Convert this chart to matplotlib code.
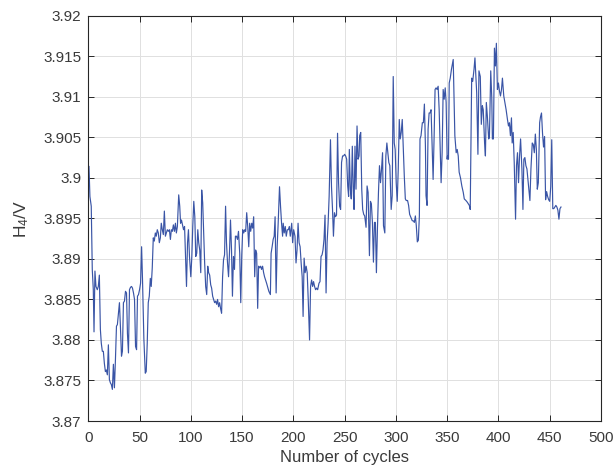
import matplotlib
matplotlib.use('Agg')
import matplotlib.pyplot as plt
from matplotlib.ticker import FuncFormatter, MultipleLocator

# valores (ciclo, H4 em V)
ciclos = [
    0.7, 1.6, 2.9, 3.9, 4.9, 5.6, 6.5, 7.5, 8.8, 9.8, 10.8, 11.8, 12.7, 13.7, 14.7, 15.7, 16.7, 17.6, 18.6, 19.6,
    20.6, 21.6, 22.5, 23.5, 24.5, 25.5, 26.5, 27.5, 28.4, 29.4, 30.4, 31.4, 32.4, 33.3, 34.3, 35.3, 36.3, 37.3, 38.2, 39.2,
    40.2, 41.2, 42.2, 43.1, 44.1, 45.1, 46.1, 47.1, 48, 49, 50, 51, 52, 52.9, 54.2, 55.6, 56.5, 57.5, 58.5, 59.5,
    60.5, 61.4, 62.4, 63.4, 64.4, 65.4, 66.3, 67.3, 68.3, 69.3, 70.3, 71.2, 72.2, 73.2, 74.2, 75.2, 76.1, 77.1, 78.1, 79.1,
    80.1, 81, 82, 83, 84, 85, 85.9, 86.9, 88.2, 89.2,
    90, 90.9, 91.9, 92.9, 93.9, 94.8, 95.8, 96.8, 97.7, 98.7, 100, 101, 101.9, 102.9, 103.9, 104.8, 105.8, 106.8, 107.7, 108.7,
    109.7, 110.6, 111.6, 112.6, 113.5, 114.5, 115.5, 116.5, 117.4, 118.4, 119.4, 120.3, 121.3, 122.3, 123.2, 124.2, 125.2, 126.1, 127.1, 128.1,
    129, 130, 131, 131.9, 132.9, 133.9, 134.8, 135.8, 136.8, 137.7, 138.7, 139.7, 140.6, 141.6, 142.6, 143.5, 144.5, 145.5, 146.5, 147.7,
    148.7, 149.7, 150.6, 151.6, 152.6, 153.5, 154.5, 155.5, 156.5, 157.4, 158.4, 159.4, 160.3, 161.3, 162.3, 163.2, 164.2, 165.2, 166.1, 167.1,
    168.1, 169, 170, 171, 171.9, 172.9, 173.9, 175.2, 176.1,
    177.6, 178.3, 179.3, 180.3, 181.3, 182.2, 183.2, 184.2, 185.2, 186.5, 187.5, 188.5, 189.5, 190.1, 191.1, 192.1, 193.1, 194.1, 195.1, 196.1,
    197, 198.4, 199.3, 200.3, 201.6, 202.6, 203.6, 204.6, 205.6, 206.6, 207.6, 208.6, 209.5, 210.5, 211.5, 212.5, 213.5, 214.5, 215.8, 216.8,
    217.8, 218.8, 219.7, 220.7, 221.7, 222.7, 223.7, 225, 226, 227, 228, 228.9, 229.9, 230.9, 231.9, 232.9, 233.9, 234.9, 236.2, 237.2,
    238.2, 239.1, 240.1, 241.1, 242.1, 243.1, 244.1, 245.1, 246.1, 247, 248, 249, 250, 251, 252, 253, 253.9,
    254.6, 255.6, 256.5, 257.5, 258.5, 259.2, 260.1, 261.1, 262.1, 263.1, 264.1, 264.7, 265.7, 266.7, 267.6, 268.6, 269.6, 270.9, 271.9, 272.9,
    274.2, 275.2, 276.1, 277.1, 278.1, 279.1, 280, 281, 282, 283, 284, 285, 286, 287, 287.9, 289.2, 290.2, 291.2, 292.2, 293.1,
    294.1, 295.4, 296.4, 297.4, 298.4, 299.3, 300.3, 301.3, 302.3, 303.3, 304.2, 305.2, 306.2, 307.2, 308.2, 309.2, 310.1, 311.4, 312.4, 313.4,
    314.7, 316, 317, 318, 319, 319.9, 320.9, 321.9, 322.9, 323.5, 324.5, 325.8, 326.8, 327.8, 328.8, 329.4, 330.4, 331.4, 332.4, 333.3,
    334.3, 335.3, 336.3, 337.3, 338.2, 339.2, 340.2, 341.2, 342.2, 343.1, 344.1, 345.1, 346.1, 347.1, 348.1, 349, 350,
    350.3, 351.3, 352, 353, 354.2, 355.9, 356.9, 357.5, 358.8, 359.8, 360.8, 361.7, 363, 364.3, 365.7, 366.7, 368.3, 369.6, 370.6, 371.6,
    372.5, 373.9, 374.9, 376.2, 377.1, 378.8, 380, 381, 382.3, 383.3, 384.3, 385.2, 386.5, 387.3, 388.2, 389.2, 390.5, 391.2, 392.5, 393.5,
    394.1, 395.1, 396.1, 397.1, 398, 399, 400, 401, 402, 403, 403.9, 405.2, 406.5, 407.5, 408.8, 409.8, 410.7, 411.7, 412.7, 413.4,
    414.4, 415.4, 416.7, 417.6, 418.6, 419.6, 420.6, 421.6, 422.9, 423.9, 424.8, 425.8, 426.8, 427.8, 428.8, 429.7, 430.7, 431.7, 433, 434,
    435, 436, 437, 437.9, 438.9, 440.2,
    441, 442, 443, 444, 445, 446, 447, 448, 449, 450, 451, 452, 453, 454, 455, 456, 457, 458, 459, 460, 461,
]

h4_v = [
    3.9014, 3.8977, 3.8965, 3.8887, 3.8862, 3.8810, 3.8885, 3.8866, 3.8862, 3.8866, 3.8880, 3.8813, 3.8796, 3.8786, 3.8786, 3.8771, 3.8761, 3.8763, 3.8757, 3.8794,
    3.8751, 3.8747, 3.8745, 3.8739, 3.8770, 3.8741, 3.8776, 3.8817, 3.8819, 3.8833, 3.8846, 3.8815, 3.8780, 3.8786, 3.8846, 3.8848, 3.8860, 3.8858, 3.8808, 3.8784,
    3.8862, 3.8865, 3.8866, 3.8864, 3.8858, 3.8850, 3.8792, 3.8788, 3.8854, 3.8856, 3.8862, 3.8870, 3.8915, 3.8874, 3.8802, 3.8759, 3.8761, 3.8796, 3.8846, 3.8854,
    3.8876, 3.8866, 3.8889, 3.8926, 3.8922, 3.8932, 3.8928, 3.8936, 3.8932, 3.8920, 3.8926, 3.8944, 3.8936, 3.8930, 3.8959, 3.8928, 3.8932, 3.8936, 3.8934, 3.8936,
    3.8924, 3.8936, 3.8934, 3.8942, 3.8934, 3.8944, 3.8932, 3.8940, 3.8979, 3.8965,
    3.8944, 3.8948, 3.8942, 3.8936, 3.8940, 3.8903, 3.8866, 3.8920, 3.8936, 3.8903, 3.8878, 3.8903, 3.8940, 3.8971, 3.8952, 3.8903, 3.8907, 3.8936, 3.8920, 3.8911,
    3.8883, 3.8985, 3.8969, 3.8928, 3.8895, 3.8866, 3.8856, 3.8891, 3.8883, 3.8880, 3.8868, 3.8864, 3.8854, 3.8850, 3.8846, 3.8848, 3.8844, 3.8850, 3.8841, 3.8846,
    3.8839, 3.8833, 3.8878, 3.8899, 3.8905, 3.8965, 3.8920, 3.8895, 3.8878, 3.8907, 3.8948, 3.8911, 3.8854, 3.8903, 3.8887, 3.8928, 3.8928, 3.8924, 3.8934, 3.8907,
    3.8846, 3.8905, 3.8936, 3.8932, 3.8936, 3.8934, 3.8957, 3.8940, 3.8915, 3.8944, 3.8934, 3.8944, 3.8938, 3.8952, 3.8878, 3.8911, 3.8907, 3.8839, 3.8891, 3.8889,
    3.8891, 3.8887, 3.8891, 3.8883, 3.8878, 3.8874, 3.8870, 3.8864, 3.8860,
    3.8856, 3.8907, 3.8915, 3.8924, 3.8928, 3.8952, 3.8858, 3.8915, 3.8944, 3.8989, 3.8965, 3.8944, 3.8928, 3.8944, 3.8932, 3.8940, 3.8928, 3.8936, 3.8936, 3.8940,
    3.8928, 3.8944, 3.8920, 3.8936, 3.8928, 3.8895, 3.8911, 3.8944, 3.8920, 3.8915, 3.8895, 3.8878, 3.8829, 3.8901, 3.8883, 3.8891, 3.8883, 3.8850, 3.8800, 3.8866,
    3.8874, 3.8866, 3.8872, 3.8866, 3.8862, 3.8864, 3.8862, 3.8870, 3.8872, 3.8903, 3.8905, 3.8911, 3.8924, 3.8954, 3.8858, 3.8920, 3.8944, 3.8977, 3.9047, 3.8989,
    3.8961, 3.8928, 3.8957, 3.8952, 3.8954, 3.9055, 3.8994, 3.8965, 3.8961, 3.9019, 3.9027, 3.9027, 3.9029, 3.9027, 3.9023, 3.8990, 3.8977,
    3.9035, 3.8986, 3.8974, 3.9039, 3.8982, 3.8961, 3.9039, 3.8986, 3.9064, 3.9023, 3.9027, 3.9052, 3.9056, 3.8986, 3.8961, 3.8955, 3.8953, 3.8939, 3.8990, 3.8982,
    3.8904, 3.8971, 3.8968, 3.8945, 3.8896, 3.8945, 3.8945, 3.8883, 3.8937, 3.8982, 3.9015, 3.8994, 3.9011, 3.9031, 3.8941, 3.8932, 3.9027, 3.9043, 3.9031, 3.9019,
    3.9015, 3.8961, 3.8978, 3.9125, 3.9043, 3.9035, 3.8994, 3.8971, 3.9011, 3.9072, 3.9048, 3.9056, 3.9072, 3.9035, 3.9002, 3.8974, 3.8972, 3.8972, 3.8966, 3.8955,
    3.8951, 3.8947, 3.8947, 3.8945, 3.8953, 3.8941, 3.8921, 3.8923, 3.8953, 3.9048, 3.9052, 3.9068, 3.9068, 3.9091, 3.9039, 3.8978, 3.8966, 3.9060, 3.9080, 3.9080,
    3.9084, 3.9043, 3.8998, 3.9052, 3.9109, 3.9111, 3.9109, 3.9113, 3.9084, 3.9043, 3.8994, 3.9031, 3.9109, 3.9097, 3.9111, 3.9093, 3.9023,
    3.9027, 3.9023, 3.9117, 3.9123, 3.9134, 3.9146, 3.9084, 3.9052, 3.9031, 3.9035, 3.9027, 3.9007, 3.9000, 3.8990, 3.8982, 3.8974, 3.8972, 3.8970, 3.8968, 3.8966,
    3.8961, 3.9123, 3.9119, 3.9134, 3.9148, 3.9105, 3.9029, 3.9132, 3.9125, 3.9066, 3.9089, 3.9084, 3.9043, 3.9027, 3.9093, 3.9076, 3.9048, 3.9050, 3.9132, 3.9099,
    3.9048, 3.9048, 3.9160, 3.9138, 3.9166, 3.9109, 3.9117, 3.9107, 3.9101, 3.9109, 3.9123, 3.9101, 3.9091, 3.9084, 3.9072, 3.9064, 3.9068, 3.9052, 3.9074, 3.9043,
    3.9056, 3.9019, 3.8949, 3.9015, 3.9031, 3.8994, 3.9027, 3.9048, 3.9011, 3.8961, 3.9023, 3.9025, 3.9015, 3.9011, 3.8998, 3.8986, 3.8972, 3.9011, 3.9043, 3.9041,
    3.9031, 3.9054, 3.9035, 3.8986, 3.8994, 3.9068,
    3.9075, 3.9080, 3.9055, 3.9038, 3.9051, 3.8973, 3.8983, 3.8977, 3.8973, 3.8971, 3.8989, 3.9047, 3.8962, 3.8962, 3.8964, 3.8966, 3.8964, 3.8960, 3.8949, 3.8962, 3.8964,
]

x_ticks = list(range(0, 501, 50))

plt.rcParams['font.family'] = ['Liberation Sans', 'DejaVu Sans']
cor_texto = '#3a3a3a'
cor_eixo = '#262626'

fig = plt.figure(figsize=(6.16, 4.72), dpi=100)
ax = fig.add_axes([0.1433, 0.108, 0.8323, 0.8587])

ax.plot(ciclos, h4_v, color='#3a55a6', linewidth=0.85)

ax.set_xlim(0, 500)
ax.set_ylim(3.87, 3.92)
ax.set_xticks(x_ticks)
ax.yaxis.set_major_locator(MultipleLocator(0.005))
ax.yaxis.set_major_formatter(FuncFormatter(lambda v, p: f'{v:.3f}'.rstrip('0').rstrip('.')))

ax.grid(True, color='#e0e0e0', linewidth=0.7)
ax.set_axisbelow(True)
ax.tick_params(direction='in', length=4, width=0.7, colors=cor_eixo, labelcolor=cor_texto,
               labelsize=11, top=True, right=True)
ax.tick_params(axis='x', pad=7)
ax.tick_params(axis='y', pad=5)
for lado in ax.spines.values():
    lado.set_color(cor_eixo)
    lado.set_linewidth(0.8)

ax.set_xlabel('Number of cycles', fontsize=12, color=cor_texto, labelpad=4)
ax.set_ylabel(r'H$\mathregular{_4}$/V', fontsize=12.5, color=cor_texto, labelpad=9)

fig.savefig('out.png', dpi=100)
